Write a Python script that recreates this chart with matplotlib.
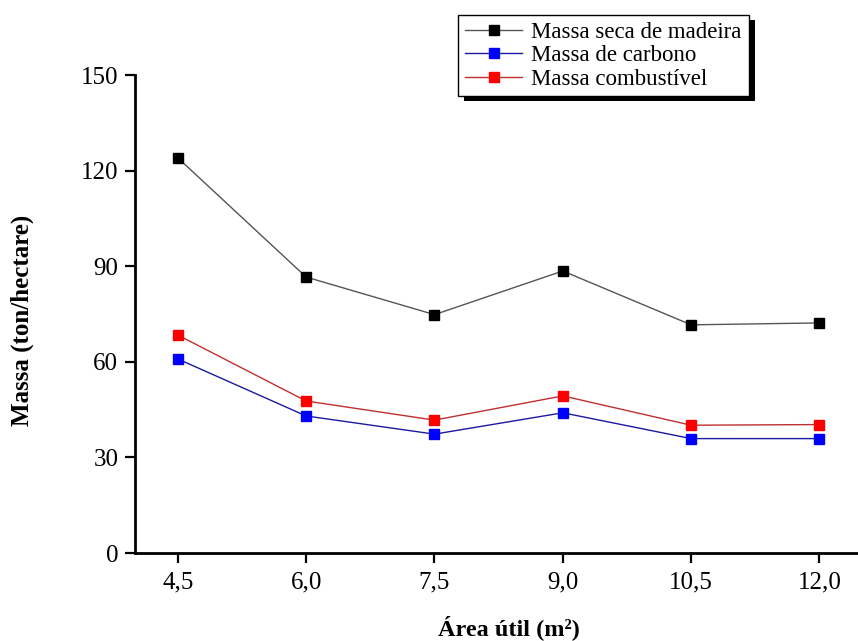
import matplotlib
matplotlib.use("Agg")
import matplotlib.pyplot as plt
from matplotlib.patches import Rectangle
from matplotlib.transforms import IdentityTransform

plt.rcParams['font.family'] = ['Liberation Serif', 'DejaVu Serif']

area = [4.5, 6.0, 7.5, 9.0, 10.5, 12.0]
tick_labels = ["4,5", "6,0", "7,5", "9,0", "10,5", "12,0"]
massa_seca = [124.0, 86.6, 74.8, 88.5, 71.6, 72.2]
massa_carbono = [60.9, 43.0, 37.3, 44.0, 35.9, 35.9]
massa_combustivel = [68.4, 47.7, 41.7, 49.3, 40.1, 40.3]
labels = ["Massa seca de madeira", "Massa de carbono", "Massa combustível"]

fig = plt.figure(figsize=(8.58, 6.41), dpi=100)
ax = fig.add_axes([135/858, 1-553/641, 1-135/858, (553-75)/641])

series = [(massa_seca, '#555555', 'black'),
          (massa_carbono, '#1a1aa0', 'blue'),
          (massa_combustivel, '#c03030', 'red')]
handles = []
for (vals, lc, mc), lab in zip(series, labels):
    h, = ax.plot(area, vals, color=lc, lw=1.0, marker='s', markersize=7.5,
                 markerfacecolor=mc, markeredgecolor=mc, label=lab, clip_on=False)
    handles.append(h)

ax.set_xlim(4.0, 12.45)
ax.set_ylim(0, 150)
ax.set_xticks(area)
ax.set_xticklabels(tick_labels)
ax.set_yticks([0, 30, 60, 90, 120, 150])
for s in ['top', 'right']:
    ax.spines[s].set_visible(False)
for s in ['left', 'bottom']:
    ax.spines[s].set_linewidth(2.0)
ax.tick_params(axis='both', direction='out', length=7, width=1.6, labelsize=18)
ax.tick_params(axis='x', pad=6)
ax.tick_params(axis='y', pad=5)

ax.set_ylabel("Massa (ton/hectare)", fontsize=18, fontweight='bold', va='center')
ax.yaxis.set_label_coords(-0.156, 0.487)
ax.set_xlabel("Área útil (m²)", fontsize=17.5, fontweight='bold', va='center')
ax.xaxis.set_label_coords(0.517, -0.157)

leg = fig.legend(handles=handles, loc='upper left', bbox_to_anchor=(458/858, 1-15/641),
                 fontsize=16.5, frameon=True, fancybox=False, edgecolor='black',
                 framealpha=1, handlelength=2.5, labelspacing=0.1, borderpad=0.3,
                 handletextpad=0.4, borderaxespad=0)
leg.get_frame().set_linewidth(1.0)
leg.set_zorder(10)

fig.canvas.draw()
bb = leg.get_window_extent()
shadow = Rectangle((bb.x0 + 6, bb.y0 - 5), bb.width, bb.height, transform=IdentityTransform(),
                   facecolor='black', edgecolor='none', zorder=9)
fig.patches.append(shadow)
shadow.set_figure(fig)

fig.savefig("out.png", dpi=100)
